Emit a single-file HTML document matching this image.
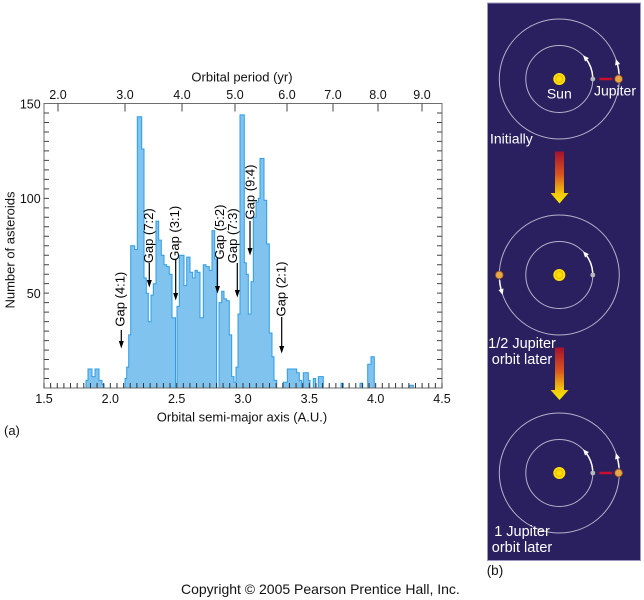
<!DOCTYPE html>
<html><head><meta charset="utf-8"><style>
html,body{margin:0;padding:0;background:#fff;}
svg{display:block;}
text{font-family:"Liberation Sans",Arial,sans-serif;}
</style></head><body>
<svg width="644" height="600" viewBox="0 0 644 600" xmlns="http://www.w3.org/2000/svg">
<defs>
<linearGradient id="g1" gradientUnits="userSpaceOnUse" x1="0" y1="151" x2="0" y2="204">
<stop offset="0" stop-color="#a3102f"/><stop offset="0.45" stop-color="#d9561f"/><stop offset="0.8" stop-color="#f3c60a"/><stop offset="1" stop-color="#f7ea00"/></linearGradient>
<linearGradient id="g2" gradientUnits="userSpaceOnUse" x1="0" y1="347" x2="0" y2="400">
<stop offset="0" stop-color="#a3102f"/><stop offset="0.45" stop-color="#d9561f"/><stop offset="0.8" stop-color="#f3c60a"/><stop offset="1" stop-color="#f7ea00"/></linearGradient>
</defs>

<!-- histogram -->
<g fill="#80c3ef" stroke="#2e9ce4" stroke-width="1">
<path d="M86,388 V380.4 H88 V369 H92 V376.6 H95 V369 H99 V380.4 H102 V384.2 H104 V388 Z"/>
<path d="M125,388 V378.5 H126.7 V367.1 H128.7 V334.9 H130.7 V245.7 H134.7 V249.5 H137.3 V116.8 H141.7 V149 H144 V278 H146.3 V293.2 H148.3 V321.6 H151 V295.1 H153.3 V283.7 H156 V221.1 H158.7 V240.1 H161.3 V255.2 H164 V264.7 H166.7 V266.6 H169.3 V274.2 H172 V317.8 H175.5 V388 Z"/>
<path d="M177,388 V306.4 H179.3 V255.2 H184 V285.6 H186.7 V257.1 H190 V272.3 H192.7 V278 H195 V270.4 H197.3 V272.3 H200 V317.8 H203.3 V264.7 H206 V266.6 H209.3 V270.4 H212 V230.6 H214.7 V259 H216.7 V388 Z"/>
<path d="M219,388 V302.6 H221.7 V291.3 H224 V298.9 H226.7 V300.8 H229.3 V334.9 H231.7 V376.6 H234 V382.3 H236 V367.1 H238 V314 H240 V114.9 H244.3 V262.8 H246.3 V274.2 H248.3 V314 H251 V281.8 H253.3 V217.3 H256 V202.1 H258.3 V198.3 H260 V158.5 H264 V200.2 H266.7 V243.9 H269.3 V333 H272 V356.7 H274 V380.4 H276.7 V388 Z"/>
<path d="M283.3,388 V382.3 H287.3 V369 H296.7 V372.8 H299.3 V380.4 H301.7 V388 Z"/>
<path d="M303.3,388 V372.8 H308.3 V380.4 H310 V388 Z"/>
<path d="M313.3,388 V378.5 H315.7 V388 Z"/>
<path d="M318.3,388 V376.6 H323.3 V388 Z"/>
<path d="M341,388 V383.3 H343.3 V388 Z"/>
<path d="M360,388 V383.3 H362.7 V388 Z"/>
<path d="M367.7,388 V364.3 H371 V356.7 H374.3 V388 Z"/>
<path d="M409.3,388 V385.2 H413.3 V388 Z"/>
</g>

<!-- frame -->
<rect x="44" y="103.5" width="398" height="284.5" fill="none" stroke="#6d6d6d" stroke-width="1"/>

<!-- bottom ticks -->
<path stroke="#333" stroke-width="1" fill="none" d="M44 388v-5M50.63 388v-5M57.27 388v-5M63.9 388v-5M70.53 388v-5M77.17 388v-5M83.8 388v-5M90.43 388v-5M97.07 388v-5M103.7 388v-5M110.33 388v-5M116.97 388v-5M123.6 388v-5M130.23 388v-5M136.87 388v-5M143.5 388v-5M150.13 388v-5M156.77 388v-5M163.4 388v-5M170.03 388v-5M176.67 388v-5M183.3 388v-5M189.93 388v-5M196.57 388v-5M203.2 388v-5M209.83 388v-5M216.47 388v-5M223.1 388v-5M229.73 388v-5M236.37 388v-5M243 388v-5M249.63 388v-5M256.27 388v-5M262.9 388v-5M269.53 388v-5M276.17 388v-5M282.8 388v-5M289.43 388v-5M296.07 388v-5M302.7 388v-5M309.33 388v-5M315.97 388v-5M322.6 388v-5M329.23 388v-5M335.87 388v-5M342.5 388v-5M349.13 388v-5M355.77 388v-5M362.4 388v-5M369.03 388v-5M375.67 388v-5M382.3 388v-5M388.93 388v-5M395.57 388v-5M402.2 388v-5M408.83 388v-5M415.47 388v-5M422.1 388v-5M428.73 388v-5M435.37 388v-5M442 388v-5"/>
<!-- left & right ticks -->
<path stroke="#444" stroke-width="1" fill="none" d="M44 378.52h5M44 369.03h5M44 359.55h5M44 350.07h5M44 340.58h5M44 331.1h5M44 321.62h5M44 312.13h5M44 302.65h5M44 293.17h5M44 283.68h5M44 274.2h5M44 264.72h5M44 255.23h5M44 245.75h5M44 236.27h5M44 226.78h5M44 217.3h5M44 207.82h5M44 198.33h5M44 188.85h5M44 179.37h5M44 169.88h5M44 160.4h5M44 150.92h5M44 141.43h5M44 131.95h5M44 122.47h5M44 112.98h5
M442 378.52h-5M442 369.03h-5M442 359.55h-5M442 350.07h-5M442 340.58h-5M442 331.1h-5M442 321.62h-5M442 312.13h-5M442 302.65h-5M442 293.17h-5M442 283.68h-5M442 274.2h-5M442 264.72h-5M442 255.23h-5M442 245.75h-5M442 236.27h-5M442 226.78h-5M442 217.3h-5M442 207.82h-5M442 198.33h-5M442 188.85h-5M442 179.37h-5M442 169.88h-5M442 160.4h-5M442 150.92h-5M442 141.43h-5M442 131.95h-5M442 122.47h-5M442 112.98h-5"/>
<!-- top ticks -->
<path stroke="#444" stroke-width="1" fill="none" d="M58 103.5v8M125 103.5v8M182 103.5v8M235 103.5v8M287 103.5v8M333 103.5v8M378 103.5v8M422 103.5v8"/>

<!-- axis labels -->
<g font-size="12.5" fill="#111" text-anchor="middle">
<text x="58" y="99">2.0</text><text x="125" y="99">3.0</text><text x="182" y="99">4.0</text><text x="235" y="99">5.0</text><text x="287" y="99">6.0</text><text x="333" y="99">7.0</text><text x="378" y="99">8.0</text><text x="422" y="99">9.0</text>
<text x="44" y="403">1.5</text><text x="110.33" y="403">2.0</text><text x="176.67" y="403">2.5</text><text x="243" y="403">3.0</text><text x="309.33" y="403">3.5</text><text x="375.67" y="403">4.0</text><text x="442" y="403">4.5</text>
</g>
<g font-size="12.5" fill="#111" text-anchor="end">
<text x="40.7" y="108.5">150</text><text x="40.7" y="203">100</text><text x="40.7" y="298">50</text>
</g>
<text x="242" y="81.5" font-size="13" text-anchor="middle" fill="#111">Orbital period (yr)</text>
<text x="242" y="421.5" font-size="13" text-anchor="middle" fill="#111">Orbital semi-major axis (A.U.)</text>
<text transform="translate(14.5,250) rotate(-90)" font-size="13" text-anchor="middle" fill="#111">Number of asteroids</text>
<text x="4" y="435" font-size="13" fill="#111">(a)</text>

<!-- gap labels -->
<g font-size="13" fill="#000" text-anchor="middle">
<text transform="translate(124.5,299.2) rotate(-90)">Gap (4:1)</text>
<text transform="translate(152.8,235.8) rotate(-90)">Gap (7:2)</text>
<text transform="translate(178.8,233.3) rotate(-90)">Gap (3:1)</text>
<text transform="translate(224,232) rotate(-90)">Gap (5:2)</text>
<text transform="translate(237,235.8) rotate(-90)">Gap (7:3)</text>
<text transform="translate(254.5,192) rotate(-90)">Gap (9:4)</text>
<text transform="translate(285.5,289) rotate(-90)">Gap (2:1)</text>
</g>
<g stroke="#000" stroke-width="1.2" fill="none">
<path d="M121.3 330V342M149.3 263V281M175.7 260V294M217.5 258V287M237.3 263V291M250 221V249M281.7 317V347"/>
</g>
<g fill="#000">
<polygon points="118.8,341 123.8,341 121.3,348.5"/>
<polygon points="146.8,280 151.8,280 149.3,287.5"/>
<polygon points="173.2,293 178.2,293 175.7,300.5"/>
<polygon points="215,286 220,286 217.5,293.5"/>
<polygon points="234.8,290 239.8,290 237.3,297.5"/>
<polygon points="247.5,248 252.5,248 250,255.5"/>
<polygon points="279.2,346 284.2,346 281.7,353.5"/>
</g>

<!-- right panel -->
<rect x="487.5" y="3" width="153" height="557.5" fill="#2a2060" stroke="#9d98bf" stroke-width="1"/>

<!-- diagram 1 -->
<g transform="translate(559.3,79)">
<circle r="60" fill="none" stroke="#b4b2c8" stroke-width="1"/>
<circle r="33.5" fill="none" stroke="#b4b2c8" stroke-width="1"/>
<circle r="6" fill="#ffe000"/><circle r="3.5" fill="none" stroke="#f0b400" stroke-width="1"/>
<path d="M33.42,-2.34 A33.5,33.5 0 0 0 26.4,-20.62" fill="none" stroke="#fff" stroke-width="1.5"/>
<polygon points="23.69,-23.69 29.62,-20.92 25.72,-17.48" fill="#fff"/>
<path d="M59.77,-5.23 A60,60 0 0 0 58.22,-14.52" fill="none" stroke="#fff" stroke-width="1.5"/>
<polygon points="56.56,-20.03 60.8,-15.05 55.82,-13.53" fill="#fff"/>
<circle cx="33.5" cy="0" r="2.4" fill="#b8b8b8"/>
<line x1="40" y1="0" x2="53" y2="0" stroke="#c8102e" stroke-width="2.5"/>
<circle cx="59.3" cy="0" r="3.8" fill="#e8a848" stroke="#9a5a20" stroke-width="0.8"/>
</g>
<text x="559.3" y="98.5" font-size="14" fill="#fff" text-anchor="middle">Sun</text>
<text x="615" y="95.5" font-size="14" fill="#fff" text-anchor="middle">Jupiter</text>
<text x="490" y="143.5" font-size="14" fill="#fff">Initially</text>

<!-- arrow 1 -->
<path d="M555,151.5 H564 V193 H568.5 L559.5,203.5 L550.5,193 H555 Z" fill="url(#g1)"/>

<!-- diagram 2 -->
<g transform="translate(559.3,275)">
<circle r="60" fill="none" stroke="#b4b2c8" stroke-width="1"/>
<circle r="33.5" fill="none" stroke="#b4b2c8" stroke-width="1"/>
<circle r="6" fill="#ffe000"/><circle r="3.5" fill="none" stroke="#f0b400" stroke-width="1"/>
<path d="M33.42,-2.34 A33.5,33.5 0 0 0 26.4,-20.62" fill="none" stroke="#fff" stroke-width="1.5"/>
<polygon points="23.69,-23.69 29.62,-20.92 25.72,-17.48" fill="#fff"/>
<path d="M-59.77,5.23 A60,60 0 0 0 -58.22,14.52" fill="none" stroke="#fff" stroke-width="1.5"/>
<polygon points="-56.56,20.03 -55.82,13.53 -60.8,15.05" fill="#fff"/>
<circle cx="33.5" cy="0" r="2.4" fill="#b8b8b8"/>
<circle cx="-60" cy="0" r="3.8" fill="#e8a848" stroke="#9a5a20" stroke-width="0.8"/>
</g>
<g font-size="14.5" fill="#fff" text-anchor="middle">
<text x="522" y="348">1/2 Jupiter</text>
<text x="522" y="364">orbit later</text>
</g>

<!-- arrow 2 -->
<path d="M555,347.5 H564 V390 H568.5 L559.5,400 L550.5,390 H555 Z" fill="url(#g2)"/>

<!-- diagram 3 -->
<g transform="translate(559.3,473)">
<circle r="60" fill="none" stroke="#b4b2c8" stroke-width="1"/>
<circle r="33.5" fill="none" stroke="#b4b2c8" stroke-width="1"/>
<circle r="6" fill="#ffe000"/><circle r="3.5" fill="none" stroke="#f0b400" stroke-width="1"/>
<path d="M33.42,-2.34 A33.5,33.5 0 0 0 26.4,-20.62" fill="none" stroke="#fff" stroke-width="1.5"/>
<polygon points="23.69,-23.69 29.62,-20.92 25.72,-17.48" fill="#fff"/>
<path d="M59.77,-5.23 A60,60 0 0 0 58.22,-14.52" fill="none" stroke="#fff" stroke-width="1.5"/>
<polygon points="56.56,-20.03 60.8,-15.05 55.82,-13.53" fill="#fff"/>
<circle cx="33.5" cy="0" r="2.4" fill="#b8b8b8"/>
<line x1="40" y1="0" x2="53" y2="0" stroke="#c8102e" stroke-width="2.5"/>
<circle cx="59.3" cy="0" r="3.8" fill="#e8a848" stroke="#9a5a20" stroke-width="0.8"/>
</g>
<g font-size="14.5" fill="#fff" text-anchor="middle">
<text x="522" y="536">1 Jupiter</text>
<text x="522" y="552">orbit later</text>
</g>

<text x="486.7" y="575" font-size="13.5" fill="#111">(b)</text>
<text x="181" y="594" font-size="14" fill="#111">Copyright © 2005 Pearson Prentice Hall, Inc.</text>
</svg>
</body></html>
